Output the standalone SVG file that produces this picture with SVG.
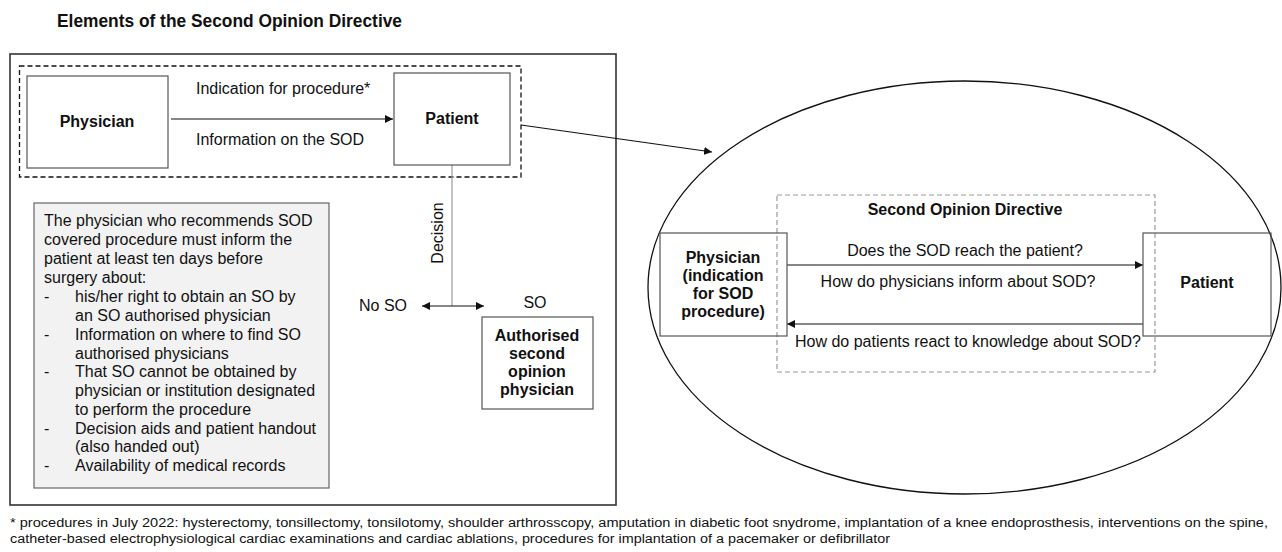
<svg xmlns="http://www.w3.org/2000/svg" width="1282" height="552" viewBox="0 0 1282 552">
<style>
text{font-family:"Liberation Sans",Arial,sans-serif;fill:#111}
.t{font-size:16px}
.b{font-size:16px;font-weight:bold}
.box{fill:#fff;stroke:#555;stroke-width:1.2}
.ln{stroke:#111;stroke-width:1.2;fill:none}
.mid{text-anchor:middle}
.fn{font-size:12.5px}
</style>
<defs>
<marker id="ah" viewBox="0 0 10 10" refX="10" refY="5" markerWidth="8" markerHeight="8" markerUnits="userSpaceOnUse" orient="auto-start-reverse">
<path d="M0,0 L10,5 L0,10 z" fill="#111"/>
</marker>
</defs>
<rect width="1282" height="552" fill="#fff"/>
<text x="57" y="27" style="font-size:18.5px;font-weight:bold" textLength="345" lengthAdjust="spacingAndGlyphs">Elements of the Second Opinion Directive</text>

<g id="outer-frame">
<rect x="10" y="54" width="606" height="451" fill="none" stroke="#333" stroke-width="1.6"/>
<rect x="19.5" y="66" width="501.5" height="111" fill="none" stroke="#111" stroke-width="1.3" stroke-dasharray="5,3"/>
</g>

<g id="connectors">
<line class="ln" x1="171" y1="119" x2="393" y2="119" marker-end="url(#ah)"/>
<line class="ln" x1="521" y1="125" x2="712" y2="152" marker-end="url(#ah)"/>
<line x1="452" y1="165" x2="452" y2="306" stroke="#999" stroke-width="1.2"/>
<line class="ln" x1="422" y1="306" x2="484" y2="306" marker-start="url(#ah)" marker-end="url(#ah)"/>
<line class="ln" x1="787" y1="265" x2="1143" y2="265" marker-end="url(#ah)"/>
<line class="ln" x1="1143" y1="324" x2="787" y2="324" marker-end="url(#ah)"/>
</g>

<g id="labels">
<text class="t" x="196" y="94">Indication for procedure*</text>
<text class="t" x="196" y="145">Information on the SOD</text>
<text class="t mid" transform="translate(443,233) rotate(-90)">Decision</text>
<text class="t" x="359" y="311">No SO</text>
<text class="t mid" x="535" y="308">SO</text>
<text class="t mid" x="965" y="256">Does the SOD reach the patient?</text>
<text class="t mid" x="958" y="287">How do physicians inform about SOD?</text>
<text class="t mid" x="968" y="347">How do patients react to knowledge about SOD?</text>
</g>

<g id="physician">
<rect class="box" x="27" y="76" width="141" height="92"/>
<text class="b mid" x="97" y="127">Physician</text>
</g>

<g id="patient">
<rect class="box" x="394" y="73" width="116" height="92"/>
<text class="b mid" x="452" y="124">Patient</text>
</g>

<g id="info-box">
<rect x="34" y="203" width="295" height="285" fill="#f2f2f2" stroke="#666" stroke-width="1.2"/>
<text class="t" x="44" y="226">The physician who recommends SOD</text>
<text class="t" x="44" y="245">covered procedure must inform the</text>
<text class="t" x="44" y="264">patient at least ten days before</text>
<text class="t" x="44" y="283">surgery about:</text>
<text class="t" x="44" y="302">-</text><text class="t" x="75" y="302">his/her right to obtain an SO by</text>
<text class="t" x="75" y="321">an SO authorised physician</text>
<text class="t" x="44" y="340">-</text><text class="t" x="75" y="340">Information on where to find SO</text>
<text class="t" x="75" y="359">authorised physicians</text>
<text class="t" x="44" y="377">-</text><text class="t" x="75" y="377">That SO cannot be obtained by</text>
<text class="t" x="75" y="396">physician or institution designated</text>
<text class="t" x="75" y="415">to perform the procedure</text>
<text class="t" x="44" y="434">-</text><text class="t" x="75" y="434">Decision aids and patient handout</text>
<text class="t" x="75" y="452">(also handed out)</text>
<text class="t" x="44" y="471">-</text><text class="t" x="75" y="471">Availability of medical records</text>
</g>

<g id="authorised">
<rect class="box" x="482" y="317" width="111" height="92"/>
<text class="b mid" x="537" y="341">Authorised</text>
<text class="b mid" x="537" y="359">second</text>
<text class="b mid" x="537" y="377">opinion</text>
<text class="b mid" x="537" y="395">physician</text>
</g>

<g id="sod-ellipse">
<ellipse cx="964.5" cy="287.5" rx="316.5" ry="206.5" fill="none" stroke="#111" stroke-width="1.3"/>
<rect x="777" y="195" width="378" height="177" fill="none" stroke="#999" stroke-width="1.2" stroke-dasharray="5,3"/>
<text class="b mid" x="965" y="215">Second Opinion Directive</text>
</g>

<g id="physician-sod">
<rect x="660" y="233" width="127" height="103" fill="none" stroke="#555" stroke-width="1.2"/>
<text class="b mid" x="723" y="263">Physician</text>
<text class="b mid" x="723" y="281">(indication</text>
<text class="b mid" x="723" y="299">for SOD</text>
<text class="b mid" x="723" y="317">procedure)</text>
</g>

<g id="patient-sod">
<rect x="1143" y="233" width="128" height="103" fill="none" stroke="#555" stroke-width="1.2"/>
<text class="b mid" x="1207" y="288">Patient</text>
</g>

<g id="footnote">
<text class="fn" x="10" y="527" textLength="1258" lengthAdjust="spacingAndGlyphs">* procedures in July 2022: hysterectomy, tonsillectomy, tonsilotomy, shoulder arthrosscopy, amputation in diabetic foot snydrome, implantation of a knee endoprosthesis, interventions on the spine,</text>
<text class="fn" x="10" y="543" textLength="880" lengthAdjust="spacingAndGlyphs">catheter-based electrophysiological cardiac examinations and cardiac ablations, procedures for implantation of a pacemaker or defibrillator</text>
</g>
</svg>
